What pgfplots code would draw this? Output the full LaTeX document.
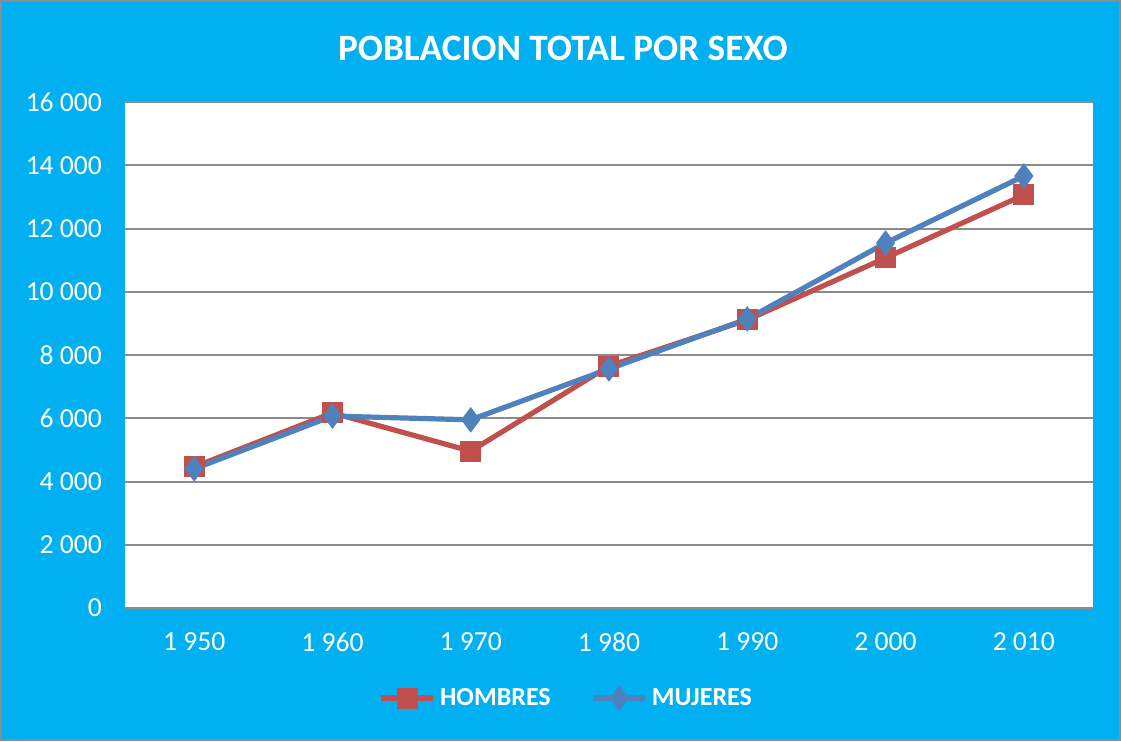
\documentclass[border=0pt]{standalone}
\usepackage{pgfplots}
\pgfplotsset{compat=1.18}
\usepackage{fontspec}
\setmainfont{Carlito}
\definecolor{bgcyan}{HTML}{00B0F0}
\definecolor{hred}{HTML}{C0504D}
\definecolor{mblue}{HTML}{4F81BD}
\definecolor{gridgray}{HTML}{8C8C8C}

\begin{document}
\begin{tikzpicture}
% 1 px of the reference = 0.5pt
\fill[bgcyan] (0,0) rectangle (560.5pt,370.5pt);
\draw[gridgray,line width=1pt] (0.5pt,0.5pt) rectangle (560pt,370pt);
\node[text=white,font=\fontsize{18.6}{20}\selectfont\bfseries] at (281.5pt,346.5pt) {POBLACION TOTAL POR SEXO};
\begin{axis}[
  at={(62.5pt,66.5pt)},anchor=south west,
  scale only axis,width=484pt,height=253pt,
  xmin=1945,xmax=2015,ymin=0,ymax=16000,
  axis background/.style={fill=white},
  axis line style={draw=none},
  scaled y ticks=false,
  xtick={1950,1960,1970,1980,1990,2000,2010},
  xticklabels={1 950,1 960,1 970,1 980,1 990,2 000,2 010},
  ytick={0,2000,4000,6000,8000,10000,12000,14000,16000},
  yticklabels={0,2 000,4 000,6 000,8 000,10 000,12 000,14 000,16 000},
  major tick length=0pt,
  ymajorgrids,grid style={gridgray,line width=1pt},
  tick label style={text=white,font=\fontsize{13.8}{15}\selectfont},
  yticklabel style={xshift=-8pt},
  xticklabel style={yshift=-9pt},
  legend style={at={(0.457,-0.178)},anchor=center,draw=none,fill=none,
    text=white,font=\fontsize{13}{15}\selectfont\bfseries,
    legend columns=2,/tikz/every even column/.append style={column sep=18pt}},
  legend image code/.code={
    \draw[#1,mark repeat=2,mark phase=2] plot coordinates {(0pt,0pt) (13pt,0pt) (26pt,0pt)};},
]
\addplot[hred,line width=2.6pt,mark=square*,mark size=5pt,mark options={solid,line width=0.5pt}] coordinates {
(1950,4460) (1960,6170) (1970,4960) (1980,7650) (1990,9110) (2000,11070) (2010,13060)
};
\addlegendentry{HOMBRES}
\addplot[mblue,line width=2.6pt,mark=diamond*,mark size=6pt,mark options={solid,line width=0.5pt}] coordinates {
(1950,4400) (1960,6070) (1970,5950) (1980,7560) (1990,9140) (2000,11540) (2010,13660)
};
\addlegendentry{MUJERES}
\end{axis}
\end{tikzpicture}
\end{document}
